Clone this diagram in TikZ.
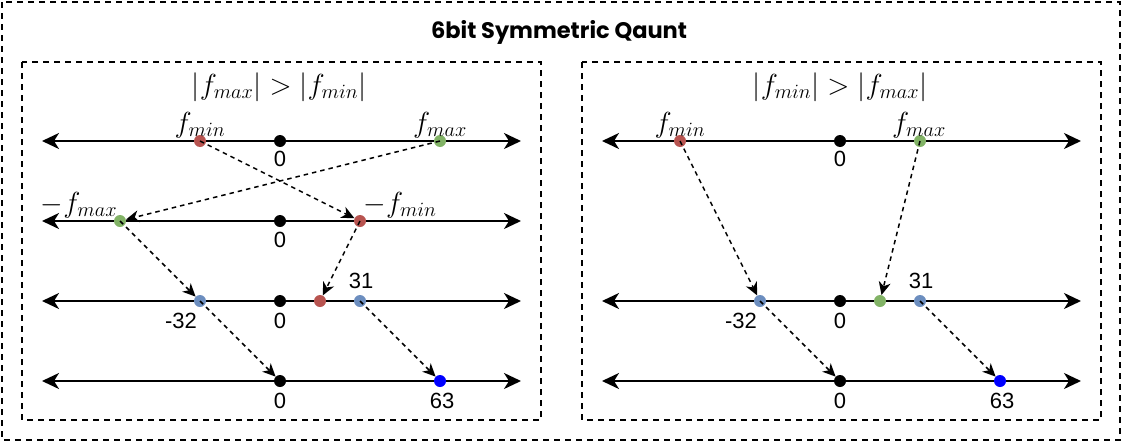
\RequirePackage{fix-cm}
\documentclass[tikz,border=0pt]{standalone}
\usepackage[no-math]{fontspec}
\setmainfont{Liberation Sans}
\newfontfamily\titlefont{Poppins}
\usetikzlibrary{arrows.meta}
\definecolor{dotred}{HTML}{B85450}
\definecolor{dotgreen}{HTML}{82B366}
\definecolor{dotblue}{HTML}{6C8EBF}
\definecolor{deepblue}{HTML}{0000FF}
\begin{document}
\begin{tikzpicture}[x=1pt,y=-1pt,
  axis/.style={line width=2pt,{Stealth[length=17pt,width=16pt,inset=5pt]}-{Stealth[length=17pt,width=16pt,inset=5pt]}},
  mapto/.style={line width=1.5pt,dash pattern=on 4.5pt off 4pt,-{Stealth[length=13pt,width=12pt,inset=4pt]}},
  pt/.style={circle,inner sep=0pt,minimum size=12pt,fill=#1},
  num/.style={font=\fontsize{22}{26}\selectfont,anchor=base,inner sep=0pt},
  lab/.style={font=\fontsize{29}{34}\selectfont,anchor=base,inner sep=0pt},
  frame/.style={line width=2pt,dash pattern=on 6pt off 5pt}]
\useasboundingbox (0,0) rectangle (1122,442);
% outer frame and title
\draw[frame] (2,2) rectangle (1120,440);
\node[font=\titlefont\bfseries\fontsize{22.5}{26}\selectfont,anchor=base,inner sep=0pt] (title) at (559,38) {6bit Symmetric Qaunt};
% ---------------- left panel ----------------
\draw[frame] (22,62) rectangle (541,420);
\node[lab] (Lcond) at (279,94) {$|f_{max}|>|f_{min}|$};
\foreach \r/\y in {1/141,2/221,3/301,4/381}{
  \coordinate (La\r) at (42,\y);
  \coordinate (Lb\r) at (521,\y);
  \draw[axis] (La\r) -- (Lb\r);
}
% dots
\node[pt=dotred] (Lfmin) at (200,141) {};
\node[pt=black] (Lz1) at (280,141) {};
\node[pt=dotgreen] (Lfmax) at (440,141) {};
\node[pt=dotgreen] (Lnfmax) at (120,221) {};
\node[pt=black] (Lz2) at (280,221) {};
\node[pt=dotred] (Lnfmin) at (360,221) {};
\node[pt=dotblue] (Lm32) at (200,301) {};
\node[pt=black] (Lz3) at (280,301) {};
\node[pt=dotred] (Lr3) at (320,301) {};
\node[pt=dotblue] (L31) at (360,301) {};
\node[pt=black] (Lz4) at (280,381) {};
\node[pt=deepblue] (L63) at (440,381) {};
% labels
\node[lab] (Llfmin) at (200,132) {$f_{min}$};
\node[lab] (Llfmax) at (440,132) {$f_{max}$};
\node[lab] (Llnfmax) at (79,212) {$-f_{max}$};
\node[lab] (Llnfmin) at (400,212) {$-f_{min}$};
\node[num] (Ll0a) at (280,166.5) {0};
\node[num] (Ll0b) at (280,247.5) {0};
\node[num] (Ll0c) at (280,328) {0};
\node[num] (Ll0d) at (280,408) {0};
\node[num] (Llm32) at (181,328) {-32};
\node[num] (Ll31) at (361,288) {31};
\node[num] (Ll63) at (442,408) {63};
% mappings
\draw[mapto] (Lfmin.center) -- (Lnfmin);
\draw[mapto] (Lfmax.center) -- (Lnfmax);
\draw[mapto] (Lnfmax.center) -- (Lm32);
\draw[mapto] (Lnfmin.center) -- (Lr3);
\draw[mapto] (Lm32.center) -- (Lz4);
\draw[mapto] (L31.center) -- (L63);
% ---------------- right panel ----------------
\begin{scope}[xshift=560pt]
\draw[frame] (22,62) rectangle (541,420);
\node[lab] (Rcond) at (280,94) {$|f_{min}|>|f_{max}|$};
\foreach \r/\y in {1/141,3/301,4/381}{
  \coordinate (Ra\r) at (42,\y);
  \coordinate (Rb\r) at (521,\y);
  \draw[axis] (Ra\r) -- (Rb\r);
}
\node[pt=dotred] (Rfmin) at (120,141) {};
\node[pt=black] (Rz1) at (280,141) {};
\node[pt=dotgreen] (Rfmax) at (360,141) {};
\node[pt=dotblue] (Rm32) at (200,301) {};
\node[pt=black] (Rz3) at (280,301) {};
\node[pt=dotgreen] (Rg3) at (320,301) {};
\node[pt=dotblue] (R31) at (360,301) {};
\node[pt=black] (Rz4) at (280,381) {};
\node[pt=deepblue] (R63) at (440,381) {};
\node[lab] (Rlfmin) at (120,132) {$f_{min}$};
\node[lab] (Rlfmax) at (359,132) {$f_{max}$};
\node[num] (Rl0a) at (280,166.5) {0};
\node[num] (Rl0c) at (280,328) {0};
\node[num] (Rl0d) at (280,408) {0};
\node[num] (Rlm32) at (181,328) {-32};
\node[num] (Rl31) at (361,288) {31};
\node[num] (Rl63) at (442,408) {63};
\draw[mapto] (Rfmin.center) -- (Rm32);
\draw[mapto] (Rfmax.center) -- (Rg3);
\draw[mapto] (Rm32.center) -- (Rz4);
\draw[mapto] (R31.center) -- (R63);
\end{scope}
\end{tikzpicture}
\end{document}
